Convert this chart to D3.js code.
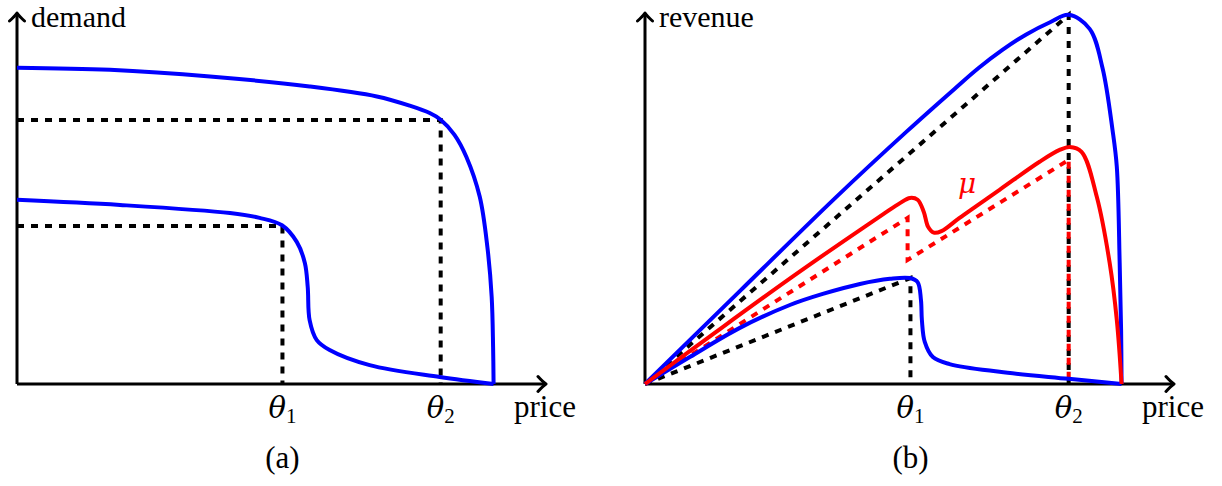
<!DOCTYPE html>
<html>
<head>
<meta charset="utf-8">
<script src="https://cdn.jsdelivr.net/npm/d3@7"></script>
<style>
  body { margin: 0; background: #fff; }
  svg { display: block; }
  text { font-family: "Liberation Serif", "DejaVu Serif", serif; fill: #000; }
  .greek { font-family: "DejaVu Serif", serif; font-style: italic; }
</style>
</head>
<body>
<div id="chart"></div>
<script>
// price is normalised: 0 at the origin, 1 where demand drops to zero
const thetas = [0.557, 0.889];
const thetaSubs = ["1", "2"];

// panel (a): demand curves as [price, demand]
const demandHigh = [
    [0, 0.857], [0.195, 0.851], [0.405, 0.833], [0.614, 0.806], [0.755, 0.779],
    [0.824, 0.754], [0.866, 0.734], [0.889, 0.716], [0.918, 0.675], [0.943, 0.615],
    [0.971, 0.507], [0.987, 0.371], [0.996, 0.236], [0.999, 0.100], [1, 0]
];
const demandLow = [
    [0, 0.499], [0.216, 0.485], [0.447, 0.463], [0.509, 0.450], [0.556, 0.430],
    [0.587, 0.385], [0.604, 0.328], [0.610, 0.263], [0.614, 0.173], [0.629, 0.119],
    [0.656, 0.092], [0.740, 0.051], [0.887, 0.019], [1, 0]
];
const demandAtTheta = [0.428, 0.715];

// panel (b): revenue curves as [price, revenue]
const revenueHigh = [
    [0, 0], [0.2, 0.253], [0.4, 0.505], [0.55, 0.685], [0.65, 0.80],
    [0.70, 0.856], [0.75, 0.905], [0.80, 0.947], [0.85, 0.980], [0.889, 1.0],
    [0.933, 0.962], [0.960, 0.856], [0.981, 0.688], [0.990, 0.588], [0.996, 0.328],
    [0.999, 0.146], [1, 0]
];
const revenueLow = [
    [0, 0], [0.094, 0.073], [0.199, 0.152], [0.304, 0.214], [0.373, 0.244],
    [0.451, 0.271], [0.514, 0.285], [0.556, 0.287], [0.572, 0.276], [0.579, 0.228],
    [0.581, 0.173], [0.587, 0.114], [0.604, 0.073], [0.639, 0.054], [0.744, 0.033],
    [0.889, 0.014], [1, 0]
];
const revenueMix = [
    [0, 0], [0.15, 0.142], [0.30, 0.282], [0.42, 0.390], [0.50, 0.460],
    [0.535, 0.490], [0.556, 0.504], [0.572, 0.499], [0.585, 0.466], [0.594, 0.426],
    [0.606, 0.410], [0.622, 0.414], [0.660, 0.450], [0.744, 0.526], [0.828, 0.602],
    [0.870, 0.634], [0.891, 0.642], [0.916, 0.629], [0.948, 0.507], [0.975, 0.328],
    [0.990, 0.173], [1, 0]
];
const revenueAtTheta = [0.287, 1.0];
const mixBound = [[0, 0], [0.551, 0.450], [0.551, 0.336], [0.889, 0.607]];
const mixBoundFoot = 0.016;

const width = 1222, height = 486;
const blue = "#0000ff", red = "#ff0000";
const dash = 7;

const svg = d3.select("#chart").append("svg")
    .attr("width", width)
    .attr("height", height);

function drawPanel(x0, yLabel, yLabelBase, caption, drawMarks) {
    const x = d3.scaleLinear().domain([0, 1.11]).range([x0, x0 + 529]);
    const y = d3.scaleLinear().domain([0, 1.005]).range([384, 13]);
    const g = svg.append("g");

    // axes with open arrow heads
    const xa = x.range(), ya = y.range();
    g.append("path")
        .attr("d", `M${xa[0]},${ya[0]}H${xa[1] - 1}M${xa[0]},${ya[0]}V${ya[1] + 1}`)
        .attr("fill", "none").attr("stroke", "#000").attr("stroke-width", 3);
    g.append("path")
        .attr("d", `M${xa[1] - 8},${ya[0] - 7.5}Q${xa[1] - 3},${ya[0] - 2} ${xa[1]},${ya[0]}Q${xa[1] - 3},${ya[0] + 2} ${xa[1] - 8},${ya[0] + 7.5}` +
            `M${xa[0] - 7.5},${ya[1] + 8}Q${xa[0] - 2},${ya[1] + 3} ${xa[0]},${ya[1]}Q${xa[0] + 2},${ya[1] + 3} ${xa[0] + 7.5},${ya[1] + 8}`)
        .attr("fill", "none").attr("stroke", "#000").attr("stroke-width", 3)
        .attr("stroke-linecap", "round").attr("stroke-linejoin", "round");

    // theta tick labels
    const ticks = g.selectAll("text.tick").data(thetas).join("text")
        .attr("class", "tick")
        .attr("x", d => x(d))
        .attr("y", 418)
        .attr("text-anchor", "middle")
        .style("font-size", "29px");
    ticks.append("tspan").attr("class", "greek").text("θ");
    ticks.append("tspan").attr("dy", 5).style("font-size", "21px").text((d, i) => thetaSubs[i]);

    g.append("text").attr("x", x0 + 497).attr("y", 417)
        .style("font-size", "31px").text("price");
    g.append("text").attr("x", x0 + 14).attr("y", yLabelBase)
        .style("font-size", "30px").text(yLabel);
    g.append("text").attr("x", x(thetas[0])).attr("y", 468)
        .attr("text-anchor", "middle").style("font-size", "31px").text(caption);

    drawMarks(g, x, y);
}

function curve(g, x, y, data, color) {
    g.append("path")
        .datum(data)
        .attr("d", d3.line().x(d => x(d[0])).y(d => y(d[1])).curve(d3.curveCatmullRom.alpha(0.5)))
        .attr("fill", "none")
        .attr("stroke", color)
        .attr("stroke-width", 4);
}

function dashed(g, x, y, pts, color, offset) {
    g.append("path")
        .datum(pts)
        .attr("d", d3.line().x(d => x(d[0])).y(d => y(d[1])))
        .attr("fill", "none")
        .attr("stroke", color)
        .attr("stroke-width", 4)
        .attr("stroke-dasharray", `${dash},${dash}`)
        .attr("stroke-dashoffset", offset || 0);
}

// (a) demand
drawPanel(17, "demand", 27, "(a)", (g, x, y) => {
    thetas.forEach((t, i) => {
        dashed(g, x, y, [[0, demandAtTheta[i]], [t, demandAtTheta[i]], [t, 0]], "#000");
    });
    curve(g, x, y, demandHigh, blue);
    curve(g, x, y, demandLow, blue);
});

// (b) revenue
drawPanel(645, "revenue", 27, "(b)", (g, x, y) => {
    thetas.forEach((t, i) => {
        dashed(g, x, y, [[0, 0], [t, revenueAtTheta[i]], [t, 0]], "#000");
    });
    dashed(g, x, y, mixBound, red);
    // red foot at theta2, dashes placed in the gaps of the black line
    const top = y(revenueAtTheta[1]);
    const start = y(mixBound[3][1]);
    const phase = (start - top) % (2 * dash);
    dashed(g, x, y, [[thetas[1], mixBound[3][1]], [thetas[1], mixBoundFoot]], red,
        (phase + dash) % (2 * dash));
    curve(g, x, y, revenueHigh, blue);
    curve(g, x, y, revenueLow, blue);
    curve(g, x, y, revenueMix, red);

    g.append("text")
        .attr("class", "greek")
        .attr("x", 967).attr("y", 193)
        .attr("text-anchor", "middle")
        .style("font-size", "28px")
        .style("fill", red)
        .text("μ");
});
</script>
</body>
</html>
